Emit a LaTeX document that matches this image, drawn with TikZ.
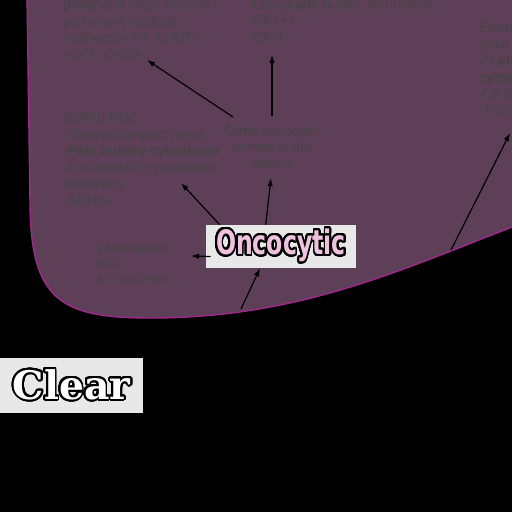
\documentclass[tikz,border=0pt]{standalone}
\usepackage{fontspec}
\setmainfont{Liberation Sans}
\newfontfamily\bubblefont{DejaVu Sans}
\newfontfamily\slabfont{DejaVu Serif}
\usepackage{contour}
\contourlength{1.3pt}
\contournumber{32}
\usetikzlibrary{arrows.meta}
\definecolor{blob}{HTML}{5E3F58}
\definecolor{blobedge}{HTML}{A0288C}
\definecolor{ink}{HTML}{454545}
\definecolor{boxgray}{HTML}{E8E8E8}
\definecolor{bubblepink}{HTML}{EFC3DE}

\begin{document}
\begin{tikzpicture}[x=0.25mm,y=-0.25mm,
		>={Latex[length=2mm,width=1.4mm]},
		note/.style={anchor=base west,align=left,inner sep=0pt,text=ink,
			font=\fontsize{9.9}{11.7}\selectfont},
		label box/.style={fill=boxgray,inner sep=0pt}]
		\fill[black] (0,0) rectangle (512,512);
		\useasboundingbox (0,0) rectangle (512,512);
		\clip (0,0) rectangle (512,512);
		% the oncocytic region
		\draw[blobedge,line width=0.35mm,fill=blob] (27,-5) -- (30,200)
			.. controls (30,300) and (60,318) .. (150,318)
			.. controls (300,318) and (400,270) .. (520,224) -- (520,-5) -- cycle;
		% text blocks (placed by the baseline of their last line)
		\node[note] (evt) at (63,59) {peripheral large vessels,\\prominent nucleoli\\-cathepsin K+, C-KIT+\\-CK7- CK20-};
		\node[note] (lot) at (248,42) {-Low-grade nuclei, no nucleoli\\-CK7++\\-CKIT-};
		\node[note] (esc) at (478,115) {Eosinophilic solid and cystic\\renal cell carcinoma\\-\textbf{"Leishmania-like"}\\\textbf{cytoplasmic stippling}\\-CK20+\\-TSC1/2};
		\node[note] (sdh) at (63,205) {SDH-d RCC\\-Sheets/compact nests\\-\textbf{Pale bubbly cytoplasm}\\-Eosinophilic cytoplasmic\\inclusions\\-SDHB-};
		\node[note,anchor=base,align=center,font=\fontsize{9.6}{11.7}\selectfont] (oth) at (272,168) {Other oncocytic\\tumors of the\\kidney};
		\node[note,font=\fontsize{8}{10.6}\selectfont] (chr) at (97,282.5) {Chromophobe\\RCC\\\& Oncocytoma};
		% title boxes
		\node[label box,minimum width=37.5mm,minimum height=10.75mm] (onc) at (281,246.5)
			{\scalebox{0.7}[1]{\fontsize{24}{24}\bubblefont\bfseries\contourlength{1.6pt}\contour{black}{\textcolor{bubblepink}{Oncocytic}}}};
		\node[label box,minimum width=35.75mm,minimum height=13.75mm] (clr) at (71.5,385.5)
			{\fontsize{28}{28}\slabfont\bfseries\contour{black}{\textcolor{white}{Clear}}};
		% connectors
		\coordinate (edge1) at (241,309);
		\coordinate (edge2) at (451,250);
		\draw[->,line width=0.3mm] ([shift={(-39,-51)}]oth.base) -- ([shift={(84,1)}]evt.base west);
		\draw[->,line width=0.3mm] ([shift={(0,-52)}]oth.base) -- ([shift={(24,13)}]lot.base west);
		\draw[->,line width=0.3mm] ([shift={(14,0)}]onc.north west) -- ([shift={(118,-22)}]sdh.base west);
		\draw[->,line width=0.3mm] ([shift={(60,0)}]onc.north west) -- ([shift={(-1,10)}]oth.base);
		\draw[->,line width=0.3mm] ([shift={(5,10)}]onc.west) -- ([shift={(94,-26.5)}]chr.base west);
		\draw[->,line width=0.3mm] (edge1) -- ([shift={(-21,0)}]onc.south);
		\draw[->,line width=0.3mm] (edge2) -- ([shift={(32,18)}]esc.base west);
\end{tikzpicture}
\end{document}
